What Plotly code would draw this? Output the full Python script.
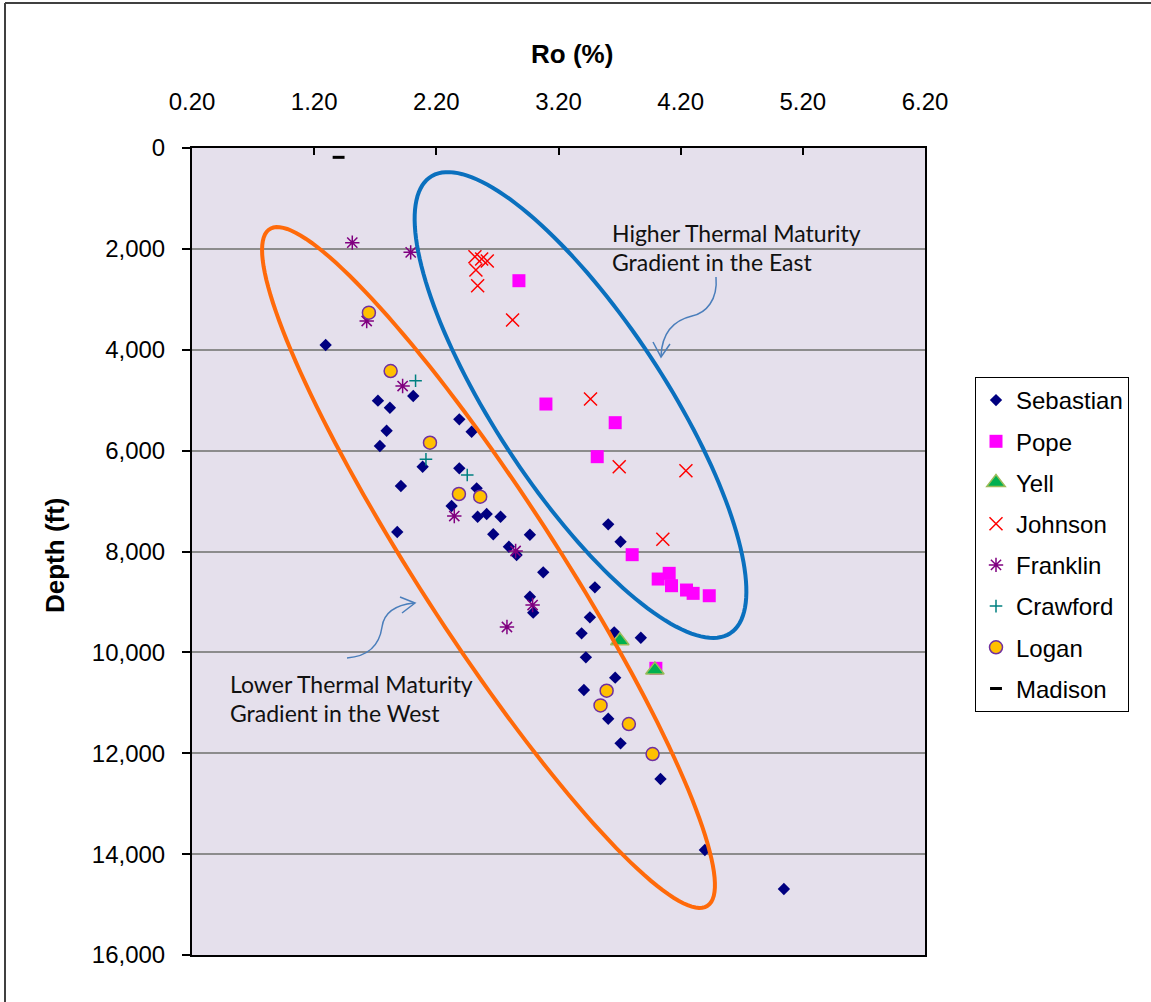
import numpy as np
import plotly.graph_objects as go

# ---- Vitrinite reflectance (Ro, %) versus depth (ft) by county ----
sebastian_ro = [1.294, 2.011, 1.722, 1.820, 2.388, 2.489, 1.793, 1.738, 2.088, 2.388,
                1.910, 2.530, 2.325, 2.538, 2.612, 2.726, 2.666, 1.880, 2.966, 2.794,
                2.857, 3.075, 2.966, 2.993, 3.607, 3.708, 3.498, 3.457, 3.389, 3.656,
                3.874, 3.424, 3.664, 3.408, 3.607, 3.708, 4.035, 4.398, 5.045]
sebastian_depth = [3906, 4917, 5010, 5149, 5380, 5625, 5605, 5909, 6319, 6351,
                   6702, 6748, 7098, 7310, 7257, 7310, 7659, 7614, 7667, 7905,
                   8070, 8413, 8897, 9213, 7462, 7806, 8711, 9306, 9623, 9603,
                   9709, 10098, 10502, 10746, 11315, 11804, 12511, 13919, 14692]

pope_ro = [2.876, 3.097, 3.664, 3.517, 3.803, 4.016, 4.106, 4.125, 4.248, 4.302, 4.434, 3.997]
pope_depth = [2631, 5076, 5446, 6120, 8063, 8546, 8433, 8678, 8764, 8830, 8877, 10316]

yell_ro = [3.702, 3.989]
yell_depth = [9769, 10350]

johnson_ro = [2.516, 2.571, 2.617, 2.524, 2.538, 2.824, 3.462, 3.697, 4.243, 4.054]
johnson_depth = [2155, 2201, 2241, 2419, 2730, 3410, 4977, 6319, 6398, 7759]

franklin_ro = [1.512, 1.990, 1.630, 1.924, 2.347, 2.849, 2.988, 2.778]
franklin_depth = [1877, 2069, 3430, 4719, 7297, 7990, 9061, 9497]

crawford_ro = [2.030, 2.115, 2.453]
crawford_depth = [4614, 6172, 6484]

logan_ro = [1.648, 1.826, 2.148, 2.385, 2.559, 3.594, 3.544, 3.776, 3.970]
logan_depth = [3265, 4422, 5843, 6860, 6914, 10760, 11052, 11421, 12015]

madison_ro = [1.40]
madison_depth = [185]

# ---- Axis ticks ----
x_ticks = [0.2, 1.2, 2.2, 3.2, 4.2, 5.2, 6.2]
x_tick_text = ["0.20", "1.20", "2.20", "3.20", "4.20", "5.20", "6.20"]
y_ticks = [0, 2000, 4000, 6000, 8000, 10000, 12000, 14000, 16000]

X_RANGE = (0.2, 6.2)
Y_RANGE = (0, 16000)

# ---- Figure geometry (pixels) ----
W, H = 1151, 1002
M_L, M_R, M_T, M_B = 192, 226, 148, 47
PLOT_W = W - M_L - M_R
PLOT_H = H - M_T - M_B


def to_data(px, py):
    """Screen pixel -> (Ro, depth) using the axis scales."""
    ro = X_RANGE[0] + (px - M_L) * (X_RANGE[1] - X_RANGE[0]) / PLOT_W
    depth = Y_RANGE[0] + (py - M_T) * (Y_RANGE[1] - Y_RANGE[0]) / PLOT_H
    return ro, depth


def to_paper(px, py):
    return (px - M_L) / PLOT_W, 1 - (py - M_T) / PLOT_H


def ellipse_path(cx, cy, a, b, angle_deg, n=160):
    """Rotated ellipse drawn in screen space, returned as an SVG path in data units."""
    th = np.radians(angle_deg)
    t = np.linspace(0, 2 * np.pi, n)
    sx = cx + a * np.cos(t) * np.cos(th) - b * np.sin(t) * np.sin(th)
    sy = cy + a * np.cos(t) * np.sin(th) + b * np.sin(t) * np.cos(th)
    pts = [to_data(x, y) for x, y in zip(sx, sy)]
    return "M " + " L ".join(f"{x:.4f},{y:.1f}" for x, y in pts) + " Z"


def curve_path(points):
    """Cubic bezier chain (screen pixels) -> SVG path in data units."""
    d = [to_data(*p) for p in points]
    s = f"M {d[0][0]:.4f},{d[0][1]:.1f}"
    for i in range(1, len(d), 3):
        c1, c2, e = d[i], d[i + 1], d[i + 2]
        s += f" C {c1[0]:.4f},{c1[1]:.1f} {c2[0]:.4f},{c2[1]:.1f} {e[0]:.4f},{e[1]:.1f}"
    return s


def polyline_path(points):
    d = [to_data(*p) for p in points]
    return "M " + " L ".join(f"{x:.4f},{y:.1f}" for x, y in d)


FONT = "Liberation Sans, Arial, sans-serif"
NOTE_FONT = "Lato, Carlito, Calibri, sans-serif"

fig = go.Figure()

series = [
    ("Sebastian", sebastian_ro, sebastian_depth,
     dict(symbol="diamond", size=9.5, color="#000080", line=dict(width=0))),
    ("Pope", pope_ro, pope_depth,
     dict(symbol="square", size=13, color="#FF00FF", line=dict(width=0))),
    ("Yell", yell_ro, yell_depth,
     dict(symbol="triangle-up", size=16, color="#00B050", line=dict(color="#9BBB59", width=1.5))),
    ("Johnson", johnson_ro, johnson_depth,
     dict(symbol="x-thin-open", size=13, color="#FF0000", line=dict(width=1.5))),
    ("Franklin", franklin_ro, franklin_depth,
     dict(symbol="asterisk-open", size=12, color="#800080", line=dict(width=1.5))),
    ("Crawford", crawford_ro, crawford_depth,
     dict(symbol="cross-thin-open", size=9, color="#008080", line=dict(width=1.5))),
    ("Logan", logan_ro, logan_depth,
     dict(symbol="circle", size=13, color="#FFC000", line=dict(color="#7030A0", width=1.5))),
    ("Madison", madison_ro, madison_depth,
     dict(symbol="line-ew-open", size=8.5, color="#000000", line=dict(width=3))),
]

for name, xs, ys, marker in series:
    fig.add_trace(go.Scatter(
        x=xs, y=ys, mode="markers", name=name, legendgroup=name,
        marker=marker, cliponaxis=False,
    ))

shapes = []

# Maturity-gradient envelopes
shapes.append(dict(type="path", xref="x", yref="y",
                   path=ellipse_path(488.5, 567.5, 403, 69, 57.1),
                   line=dict(color="#FF6A0A", width=4), layer="above"))
shapes.append(dict(type="path", xref="x", yref="y",
                   path=ellipse_path(580.5, 405, 273, 85, 56.7),
                   line=dict(color="#0A70BE", width=4), layer="above"))

# Curved call-out arrows
ARROW = dict(color="#4A7EBB", width=1.5)
shapes.append(dict(type="path", xref="x", yref="y", layer="above", line=ARROW,
                   path=curve_path([(716, 277), (718, 300), (706, 313), (692, 316),
                                    (675, 320), (662, 332), (661, 356)])))
shapes.append(dict(type="path", xref="x", yref="y", layer="above", line=ARROW,
                   path=polyline_path([(653, 342), (661, 357), (670, 344)])))
shapes.append(dict(type="path", xref="x", yref="y", layer="above", line=ARROW,
                   path=curve_path([(347, 658), (372, 656), (380, 641), (382, 627),
                                    (384, 612), (395, 605), (414, 603)])))
shapes.append(dict(type="path", xref="x", yref="y", layer="above", line=ARROW,
                   path=polyline_path([(400, 597), (415, 603), (402, 613)])))

# Outer chart frame (top and left edges)
x0, y0 = to_paper(5, 3)
x1, y1 = to_paper(W + 5, H + 5)
shapes.append(dict(type="line", xref="paper", yref="paper", x0=x0, y0=y0, x1=x1, y1=y0,
                   line=dict(color="#404040", width=2)))
shapes.append(dict(type="line", xref="paper", yref="paper", x0=x0, y0=y0, x1=x0, y1=y1,
                   line=dict(color="#404040", width=2)))

annotations = []
# Axis titles
tx, ty = to_paper(572, 54)
annotations.append(dict(text="<b>Ro (%)</b>", xref="paper", yref="paper", x=tx, y=ty,
                        xanchor="center", yanchor="middle", showarrow=False,
                        font=dict(family=FONT, size=26, color="#000000")))
tx, ty = to_paper(55, 555)
annotations.append(dict(text="<b>Depth (ft)</b>", xref="paper", yref="paper", x=tx, y=ty,
                        xanchor="center", yanchor="middle", showarrow=False, textangle=-90,
                        font=dict(family=FONT, size=26, color="#000000")))

# Call-out labels
notes = [
    ("Higher Thermal Maturity", 610, 233),
    ("Gradient in the East", 610, 262),
    ("Lower Thermal Maturity", 228, 684),
    ("Gradient in the West", 228, 713),
]
for text, px, py in notes:
    nx, ny = to_paper(px, py)
    annotations.append(dict(text=text, xref="paper", yref="paper", x=nx, y=ny,
                            xanchor="left", yanchor="middle", showarrow=False,
                            font=dict(family=NOTE_FONT, size=23, color="#111111")))

lx, ly = to_paper(975, 377)

fig.update_layout(
    width=W, height=H, autosize=False,
    margin=dict(l=M_L, r=M_R, t=M_T, b=M_B, pad=0),
    paper_bgcolor="#FFFFFF",
    plot_bgcolor="#E5E0EC",
    font=dict(family=FONT, size=24, color="#000000"),
    showlegend=True,
    legend=dict(
        x=lx, y=ly, xanchor="left", yanchor="top",
        bgcolor="#FFFFFF", bordercolor="#000000", borderwidth=1,
        font=dict(family=FONT, size=24, color="#000000"),
        tracegroupgap=7, itemsizing="trace",
    ),
    xaxis=dict(
        side="top", range=list(X_RANGE), tickmode="array",
        tickvals=x_ticks, ticktext=x_tick_text,
        ticks="inside", ticklen=7, tickwidth=2, tickcolor="#000000",
        ticklabelstandoff=26,
        showgrid=False, zeroline=False,
        showline=True, linecolor="#000000", linewidth=2, mirror=True,
        tickfont=dict(family=FONT, size=24, color="#000000"),
    ),
    yaxis=dict(
        range=[Y_RANGE[1], Y_RANGE[0]], tickmode="array", tickvals=y_ticks,
        tickformat=",d",
        ticks="outside", ticklen=8, tickwidth=2, tickcolor="#000000",
        ticklabelstandoff=12,
        showgrid=True, gridcolor="#8C8C8C", gridwidth=2, zeroline=False,
        showline=True, linecolor="#000000", linewidth=2, mirror=True,
        tickfont=dict(family=FONT, size=24, color="#000000"),
    ),
    shapes=shapes,
    annotations=annotations,
)

fig.write_html("out.html")
